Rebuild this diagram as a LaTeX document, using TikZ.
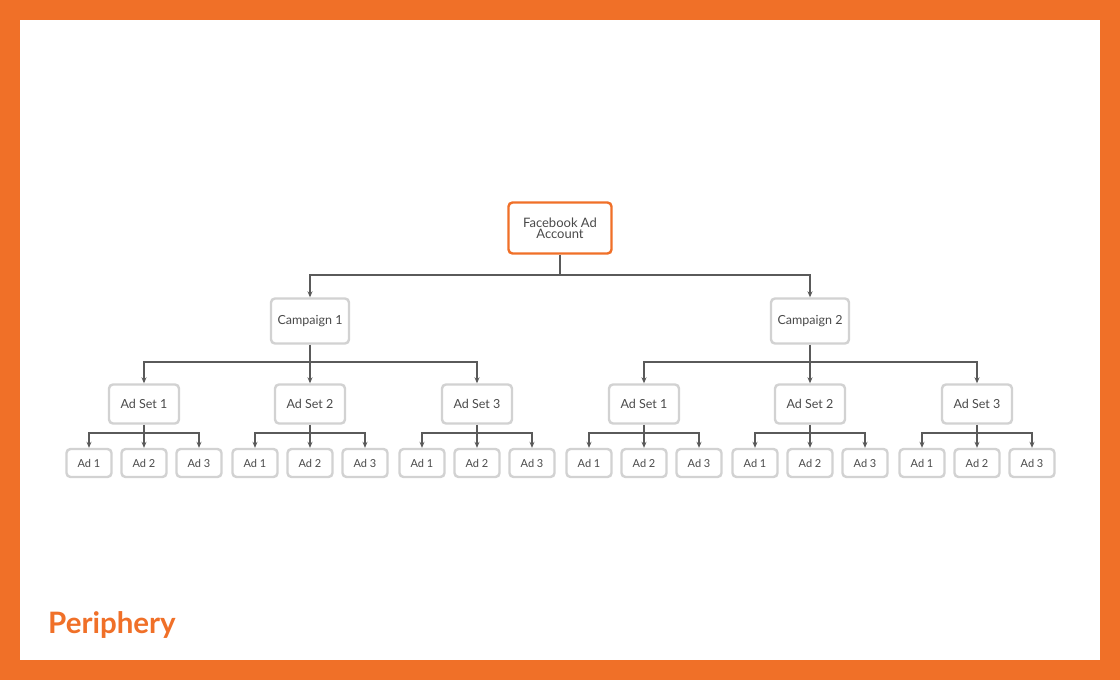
\documentclass[tikz,border=0pt]{standalone}
\usepackage{fontspec}
\setmainfont{Lato}
\usetikzlibrary{positioning,arrows.meta}
\definecolor{brand}{HTML}{F07028}
\definecolor{boxgray}{HTML}{D2D2D2}
\definecolor{txtgray}{HTML}{4A4A4A}
\definecolor{linkgray}{HTML}{5A5A5A}
\tikzset{
  box/.style={draw=boxgray,line width=2.4pt,rounded corners=4pt,fill=white,
    text=txtgray,align=center,inner sep=0pt},
  top/.style={box,draw=brand,minimum width=103pt,minimum height=51pt,font=\fontsize{13}{13}\selectfont},
  camp/.style={box,minimum width=78pt,minimum height=45pt,font=\fontsize{12.5}{13}\selectfont},
  adset/.style={box,minimum width=70pt,minimum height=39pt,font=\fontsize{12.5}{13}\selectfont},
  ad/.style={box,minimum width=45pt,minimum height=28pt,font=\fontsize{11}{12}\selectfont},
  link/.style={draw=linkgray,line width=1.3pt,-{Stealth[length=6pt,width=5pt]}}
}
\begin{document}
\begin{tikzpicture}[x=1pt,y=-1pt]
\useasboundingbox (0,0) rectangle (1120,680);
\fill[brand] (0,0) rectangle (1120,680);
\fill[white] (20,20) rectangle (1100,660);

% account and campaigns
\node[top] (acc) at (560,228) {Facebook Ad\\[-2pt]Account};
\node[camp] (c1) at (310,321) {Campaign 1};
\node[camp] (c2) at (810,321) {Campaign 2};
\coordinate (accj) at (560,275);
\draw[draw=linkgray,line width=1.3pt] (acc.south) -- (accj);
\draw[link] (accj) -| (c1.north);
\draw[link] (accj) -| (c2.north);

% ad sets and ads
\foreach \c/\cx in {1/310,2/810}{
  \coordinate (cj\c) at (\cx,362);
  \draw[draw=linkgray,line width=1.3pt] (c\c.south) -- (cj\c);
  \foreach \s/\dx in {1/-166,2/0,3/167}{
    \node[adset] (s\c\s) at (\cx+\dx,404) {Ad Set \s};
    \draw[link] (cj\c) -| (s\c\s.north);
    \coordinate (sj\c\s) at (\cx+\dx,433);
    \draw[draw=linkgray,line width=1.3pt] (s\c\s.south) -- (sj\c\s);
    \foreach \a/\ax in {1/-55,2/0,3/55}{
      \node[ad] (a\c\s\a) at (\cx+\dx+\ax,463) {Ad \a};
      \draw[link] (sj\c\s) -| (a\c\s\a.north);
    }
  }
}

% logo
\node[anchor=west,text=brand,font=\fontsize{29.5}{30}\bfseries,inner sep=0pt] (logo) at (48,625) {Periphery};
\end{tikzpicture}
\end{document}
